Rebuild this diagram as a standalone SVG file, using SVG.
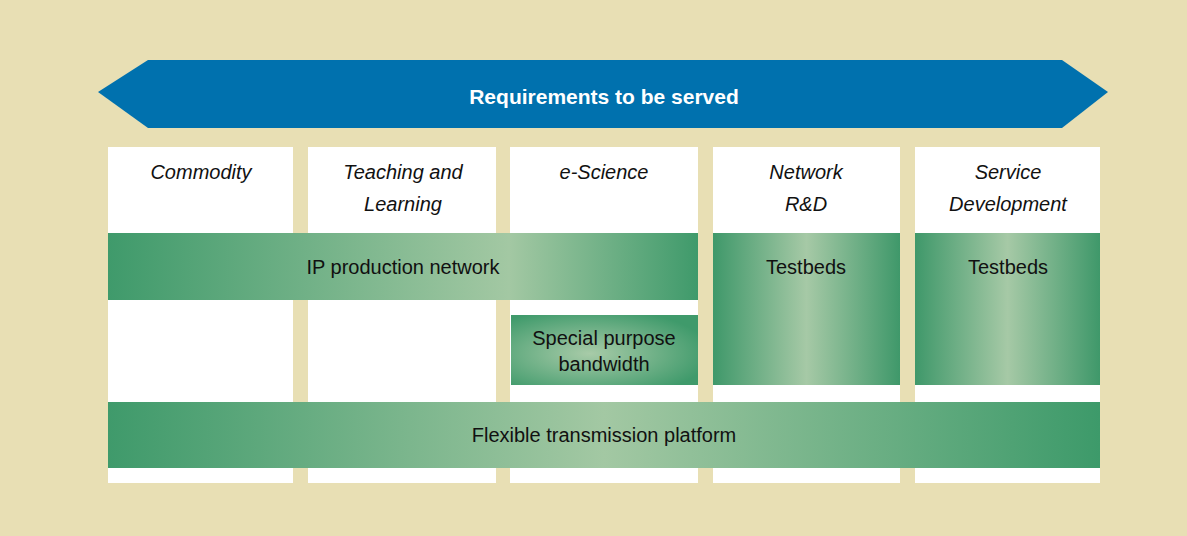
<svg xmlns="http://www.w3.org/2000/svg" width="1187" height="536" viewBox="0 0 1187 536">
<defs>
<style>
.col{fill:#ffffff}
.lab{font-family:"Liberation Sans",Arial,sans-serif;font-style:italic;font-size:20px;fill:#111111;text-anchor:middle}
.gt{font-family:"Liberation Sans",Arial,sans-serif;font-size:20px;fill:#111111;text-anchor:middle}
.hd{font-family:"Liberation Sans",Arial,sans-serif;font-weight:bold;font-size:21px;fill:#ffffff;text-anchor:middle}
</style>
<linearGradient id="gh" x1="0" y1="0" x2="1" y2="0">
<stop offset="0" stop-color="#3f9a6b"/>
<stop offset="0.5" stop-color="#a3c8a3"/>
<stop offset="1" stop-color="#3d9a6a"/>
</linearGradient>
<linearGradient id="gt" x1="0" y1="0" x2="1" y2="0">
<stop offset="0" stop-color="#3f986a"/>
<stop offset="0.5" stop-color="#a6c9a6"/>
<stop offset="1" stop-color="#3f986a"/>
</linearGradient>
<radialGradient id="gr" cx="0.42" cy="0.55" r="0.65">
<stop offset="0" stop-color="#a8cba8"/>
<stop offset="1" stop-color="#3f9a6b"/>
</radialGradient>
<linearGradient id="gip" x1="0" y1="0" x2="1" y2="0">
<stop offset="0" stop-color="#3f9a6b"/>
<stop offset="0.68" stop-color="#a3c8a3"/>
<stop offset="1" stop-color="#3f9a6b"/>
</linearGradient>
</defs>
<rect x="0" y="0" width="1187" height="536" fill="#e8dfb4"/>
<g id="header">
<polygon points="98,92 148,60 1062,60 1108,92 1062,128 148,128" fill="#0071ae"/>
<text class="hd" x="604" y="104">Requirements to be served</text>
</g>
<g id="columns">
<g id="col-commodity"><rect class="col" x="108" y="147" width="185" height="336"/><text class="lab" x="201" y="179">Commodity</text></g>
<g id="col-teaching"><rect class="col" x="308" y="147" width="188" height="336"/><text class="lab" x="403" y="179">Teaching and</text><text class="lab" x="403" y="211">Learning</text></g>
<g id="col-escience"><rect class="col" x="510" y="147" width="188" height="336"/><text class="lab" x="604" y="179">e-Science</text></g>
<g id="col-network"><rect class="col" x="713" y="147" width="187" height="336"/><text class="lab" x="806" y="179">Network</text><text class="lab" x="806" y="211">R&amp;D</text></g>
<g id="col-service"><rect class="col" x="915" y="147" width="185" height="336"/><text class="lab" x="1008" y="179">Service</text><text class="lab" x="1008" y="211">Development</text></g>
</g>
<g id="ip-network"><rect x="108" y="233" width="590" height="67" fill="url(#gip)"/><text class="gt" x="403" y="274">IP production network</text></g>
<g id="testbeds-1"><rect x="713" y="233" width="187" height="152" fill="url(#gt)"/><text class="gt" x="806" y="274">Testbeds</text></g>
<g id="testbeds-2"><rect x="915" y="233" width="185" height="152" fill="url(#gt)"/><text class="gt" x="1008" y="274">Testbeds</text></g>
<g id="special"><rect x="511" y="315" width="187" height="70" fill="url(#gr)"/><text class="gt" x="604" y="345">Special purpose</text><text class="gt" x="604" y="371">bandwidth</text></g>
<g id="flexible"><rect x="108" y="402" width="992" height="66" fill="url(#gh)"/><text class="gt" x="604" y="442">Flexible transmission platform</text></g>
<g id="connectors"/>
</svg>
